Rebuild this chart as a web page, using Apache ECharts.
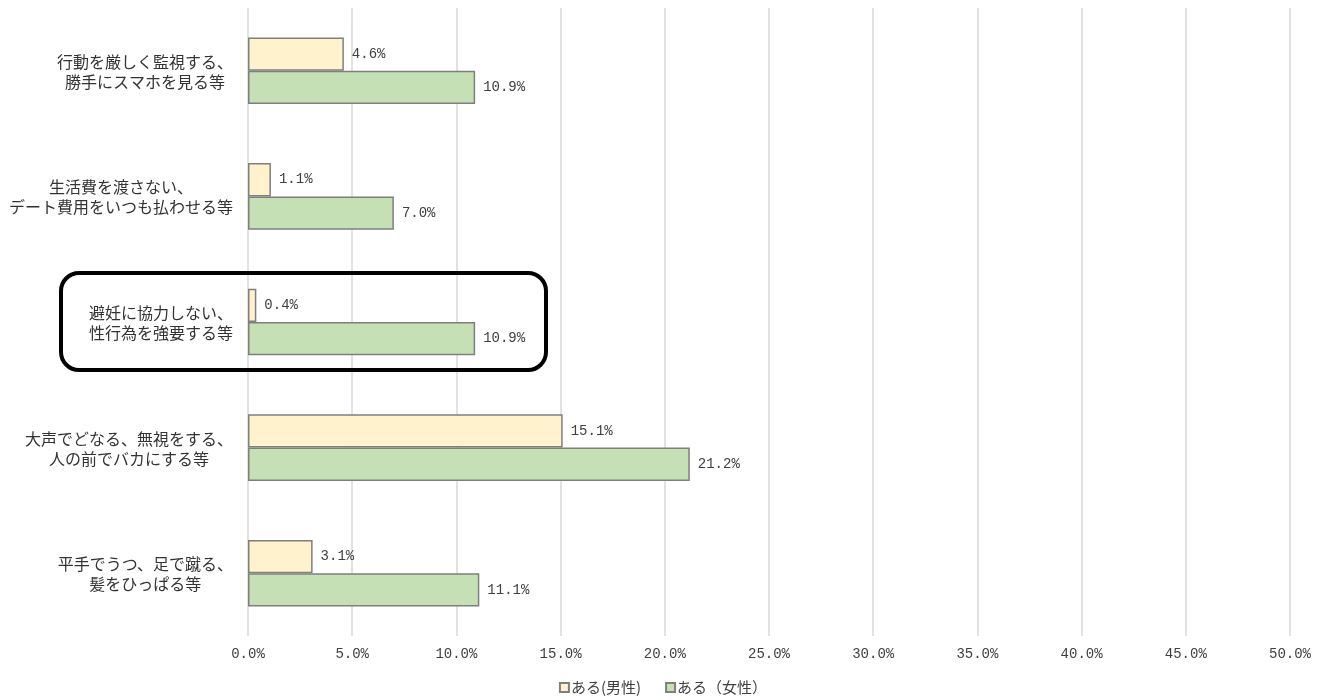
<!DOCTYPE html>
<html>
<head>
<meta charset="utf-8">
<script src="https://cdn.jsdelivr.net/npm/echarts@6/dist/echarts.min.js"></script>
<style>
html,body{margin:0;padding:0;background:#fff;}
#chart{width:1326px;height:700px;}
</style>
</head>
<body>
<div id="chart"></div>
<script>
// Categories (top to bottom)
const categories = [
  '行動を厳しく監視する、\n勝手にスマホを見る等',
  '生活費を渡さない、\nデート費用をいつも払わせる等',
  '避妊に協力しない、\n性行為を強要する等',
  '大声でどなる、無視をする、\n人の前でバカにする等',
  '平手でうつ、足で蹴る、\n髪をひっぱる等'
];
const seriesNames = ['ある(男性)', 'ある（女性）'];
const maleValues = [4.6, 1.1, 0.4, 15.1, 3.1];
const femaleValues = [10.9, 7.0, 10.9, 21.2, 11.1];

const jpFont = '"Noto Sans CJK JP", sans-serif';
const numFont = '"Liberation Mono", "DejaVu Sans Mono", monospace';
const catFontSize = 16;
const pct = v => v.toFixed(1) + '%';

const chart = echarts.init(document.getElementById('chart'));
chart.setOption({
  backgroundColor: '#ffffff',
  animation: false,
  grid: { left: 248, right: 36, top: 8, bottom: 64 },
  legend: {
    bottom: 0,
    left: 'center',
    itemWidth: 9,
    itemHeight: 9,
    itemGap: 24,
    icon: 'rect',
    textStyle: { fontFamily: jpFont, fontSize: 15, color: '#404040', padding: [0, 0, 0, -3] },
    data: seriesNames
  },
  xAxis: {
    type: 'value',
    min: 0,
    max: 50,
    interval: 5,
    axisLine: { show: false },
    axisTick: { show: false },
    splitLine: { lineStyle: { color: '#d9d9d9', width: 1.5 } },
    axisLabel: {
      margin: 11,
      fontFamily: numFont,
      fontSize: 14,
      color: '#404040',
      formatter: pct
    }
  },
  yAxis: {
    type: 'category',
    inverse: true,
    data: categories,
    axisLine: { show: false },
    axisTick: { show: false },
    // category text is drawn as centred blocks below
    axisLabel: { show: false }
  },
  series: [
    {
      name: seriesNames[0],
      type: 'bar',
      data: maleValues,
      barGap: '0%',
      barCategoryGap: '47%',
      itemStyle: { color: '#fff2cc', borderColor: '#7f7f7f', borderWidth: 1.5 },
      label: {
        show: true, position: 'right', distance: 8,
        fontFamily: numFont, fontSize: 14, color: '#404040',
        formatter: p => pct(p.value)
      }
    },
    {
      name: seriesNames[1],
      type: 'bar',
      data: femaleValues,
      barGap: '0%',
      barCategoryGap: '47%',
      itemStyle: { color: '#c5e0b4', borderColor: '#7f7f7f', borderWidth: 1.5 },
      label: {
        show: true, position: 'right', distance: 8,
        fontFamily: numFont, fontSize: 14, color: '#404040',
        formatter: p => pct(p.value)
      }
    }
  ]
});

// Category labels: each block sits right-aligned next to the axis,
// with its lines centred inside the block.
const measure = document.createElement('canvas').getContext('2d');
measure.font = catFontSize + 'px "Noto Sans CJK JP"';
const axisX = chart.convertToPixel({ xAxisIndex: 0 }, 0);
const blockRight = axisX - 15;
const labelGraphics = categories.map((cat, i) => {
  const w = Math.max(...cat.split('\n').map(s => measure.measureText(s).width));
  const y = chart.convertToPixel({ yAxisIndex: 0 }, i);
  return {
    type: 'text',
    x: blockRight - w / 2,
    y: y + 1,
    style: {
      text: cat,
      font: catFontSize + 'px "Noto Sans CJK JP"',
      fill: '#333333',
      align: 'center',
      verticalAlign: 'middle',
      lineHeight: 20
    }
  };
});

// Highlight frame around the third category
const hy = chart.convertToPixel({ yAxisIndex: 0 }, 2);
labelGraphics.push({
  type: 'rect',
  shape: { x: 61, y: hy - 49, width: 485, height: 97, r: 18 },
  style: { fill: 'none', stroke: '#000000', lineWidth: 4 },
  z: 100
});

chart.setOption({ graphic: labelGraphics });
</script>
</body>
</html>
